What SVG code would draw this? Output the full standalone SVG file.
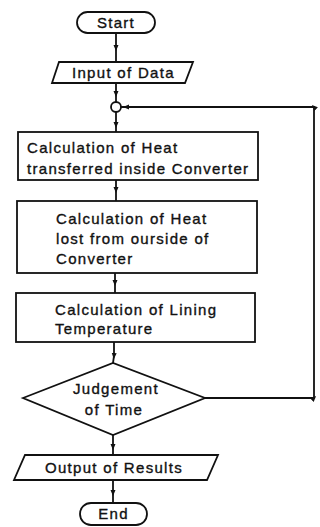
<svg xmlns="http://www.w3.org/2000/svg" width="320" height="527" viewBox="0 0 320 527">
<defs>
<marker id="ah" viewBox="0 0 6 6" refX="3" refY="3" markerWidth="6" markerHeight="6" markerUnits="userSpaceOnUse" orient="auto">
<path d="M0,0.5 L6,3 L0,5.5 Z" fill="#111"/>
</marker>
</defs>
<style>
.s{fill:#fff;stroke:#111;stroke-width:1.8}
.c{fill:none;stroke:#111;stroke-width:1.8;marker-mid:url(#ah)}
.t{font-family:"Liberation Sans",Arial,sans-serif;font-size:15px;letter-spacing:1.3px;fill:#111;stroke:#111;stroke-width:0.35}
.m{text-anchor:middle}
</style>
<g id="connectors">
<path class="c" d="M116 33 L116 48 L116 62"/>
<path class="c" d="M116 83 L116 94 L116 102"/>
<path class="c" d="M116 112 L116 125 L116 132"/>
<path class="c" d="M116 180 L116 190 L116 201"/>
<path class="c" d="M115 273 L115 283 L115 293"/>
<path class="c" d="M114 342 L114 356 L113 363"/>
<path class="c" d="M113 435 L113 447 L113 455"/>
<path class="c" d="M113 480 L113 493 L113 503"/>
<path class="c" d="M205 398 L314 398 L314 107 L126 107 L121 107"/>
</g>
<g id="start"><rect class="s" x="77" y="12" width="78" height="21" rx="10.5"/><text class="t m" x="116" y="28">Start</text></g>
<g id="input"><polygon class="s" points="59,62 193,62 185,83 52,83"/><text class="t" x="72" y="78">Input of Data</text></g>
<g id="junction"><circle class="s" cx="116" cy="107" r="5"/></g>
<g id="box1"><rect class="s" x="18" y="132" width="240" height="48"/><text class="t" x="27" y="153">Calculation of Heat</text><text class="t" x="27" y="174">transferred inside Converter</text></g>
<g id="box2"><rect class="s" x="17" y="201" width="240" height="72"/><text class="t" x="56" y="224">Calculation of Heat</text><text class="t" x="56" y="244">lost from ourside of</text><text class="t" x="56" y="264">Converter</text></g>
<g id="box3"><rect class="s" x="16" y="293" width="239" height="49"/><text class="t" x="55" y="315">Calculation of Lining</text><text class="t" x="55" y="334">Temperature</text></g>
<g id="decision"><polygon class="s" points="23,398 113,363 205,398 113,435"/><text class="t m" x="116" y="394">Judgement</text><text class="t m" x="114" y="415">of Time</text></g>
<g id="output"><polygon class="s" points="25,455 218,455 207,480 14,480"/><text class="t" x="45" y="473">Output of Results</text></g>
<g id="end"><rect class="s" x="80" y="503" width="67" height="22" rx="11"/><text class="t m" x="113.5" y="519">End</text></g>
</svg>
